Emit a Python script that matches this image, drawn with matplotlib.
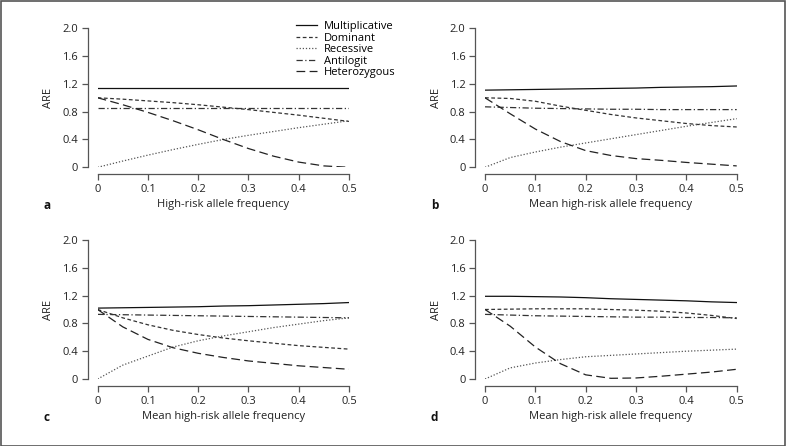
import numpy as np
import matplotlib.pyplot as plt
import matplotlib
from matplotlib.patches import Rectangle

matplotlib.rcParams['font.family'] = ['Open Sans', 'DejaVu Sans']

# data
p = [0.0, 0.05, 0.1, 0.15, 0.2, 0.25, 0.3, 0.35, 0.4, 0.45, 0.5]

# panel a
a_mult = [1.14, 1.14, 1.14, 1.14, 1.14, 1.14, 1.14, 1.14, 1.14, 1.14, 1.14]
a_dom = [1.0, 0.98, 0.955, 0.93, 0.9, 0.865, 0.83, 0.79, 0.75, 0.705, 0.66]
a_rec = [0.0, 0.09, 0.175, 0.255, 0.33, 0.4, 0.46, 0.515, 0.57, 0.62, 0.67]
a_anti = [0.85, 0.85, 0.85, 0.85, 0.85, 0.85, 0.85, 0.85, 0.85, 0.85, 0.85]
a_het = [1.0, 0.9, 0.79, 0.67, 0.54, 0.4, 0.27, 0.16, 0.075, 0.02, 0.0]

# panel b
b_mult = [1.11, 1.115, 1.12, 1.125, 1.13, 1.135, 1.14, 1.15, 1.155, 1.16, 1.17]
b_dom = [1.0, 0.99, 0.95, 0.88, 0.82, 0.76, 0.71, 0.67, 0.63, 0.6, 0.58]
b_rec = [0.0, 0.14, 0.22, 0.29, 0.35, 0.41, 0.47, 0.53, 0.59, 0.645, 0.7]
b_anti = [0.87, 0.86, 0.85, 0.845, 0.84, 0.835, 0.835, 0.83, 0.83, 0.83, 0.83]
b_het = [1.0, 0.77, 0.55, 0.37, 0.24, 0.17, 0.125, 0.1, 0.07, 0.045, 0.02]

# panel c
c_mult = [1.02, 1.025, 1.03, 1.035, 1.04, 1.05, 1.055, 1.065, 1.075, 1.085, 1.1]
c_dom = [1.0, 0.88, 0.78, 0.7, 0.64, 0.59, 0.55, 0.515, 0.48, 0.455, 0.43]
c_rec = [0.0, 0.2, 0.33, 0.46, 0.55, 0.62, 0.68, 0.74, 0.79, 0.84, 0.88]
c_anti = [0.93, 0.925, 0.92, 0.915, 0.91, 0.905, 0.9, 0.895, 0.89, 0.885, 0.88]
c_het = [1.0, 0.75, 0.57, 0.45, 0.37, 0.31, 0.26, 0.225, 0.19, 0.165, 0.14]

# panel d
d_mult = [1.19, 1.19, 1.185, 1.18, 1.17, 1.155, 1.145, 1.135, 1.125, 1.11, 1.1]
d_dom = [1.0, 1.005, 1.01, 1.01, 1.01, 1.0, 0.99, 0.975, 0.95, 0.915, 0.87]
d_rec = [0.0, 0.16, 0.23, 0.28, 0.32, 0.34, 0.36, 0.38, 0.4, 0.415, 0.43]
d_anti = [0.93, 0.92, 0.91, 0.905, 0.9, 0.895, 0.89, 0.89, 0.885, 0.885, 0.88]
d_het = [1.0, 0.76, 0.46, 0.22, 0.06, 0.01, 0.015, 0.04, 0.07, 0.1, 0.14]

labels = ['Multiplicative', 'Dominant', 'Recessive', 'Antilogit', 'Heterozygous']
styles = ['-', (0, (3, 2)), (0, (1, 1.5)), (0, (5, 2, 1, 2)), (0, (7, 3.5))]
colors = ['#111111', '#333333', '#555555', '#333333', '#222222']
panels = [
    ('a', 'High-risk allele frequency', [a_mult, a_dom, a_rec, a_anti, a_het]),
    ('b', 'Mean high-risk allele frequency', [b_mult, b_dom, b_rec, b_anti, b_het]),
    ('c', 'Mean high-risk allele frequency', [c_mult, c_dom, c_rec, c_anti, c_het]),
    ('d', 'Mean high-risk allele frequency', [d_mult, d_dom, d_rec, d_anti, d_het]),
]
# axes boxes in figure fraction (left, bottom, width, height)
boxes = [(0.1241, 0.6249, 0.3193, 0.3117),
         (0.6163, 0.6249, 0.3198, 0.3117),
         (0.1241, 0.1502, 0.3193, 0.3117),
         (0.6163, 0.1502, 0.3198, 0.3117)]

fig = plt.figure(figsize=(7.87, 4.46), dpi=100)
fig.patches.append(Rectangle((0.001, 0.001), 0.997, 0.997, transform=fig.transFigure,
                             fill=False, edgecolor='#555555', linewidth=1.2))

axc = '#555555'
for k in range(4):
    letter, xlab, series = panels[k]
    ax = fig.add_axes(boxes[k])
    for s in range(5):
        ax.plot(p, series[s], linestyle=styles[s], color=colors[s], linewidth=0.9,
                label=labels[s])
    ax.set_xlim(0, 0.5)
    ax.set_ylim(0, 2.0)
    ax.set_xticks([0, 0.1, 0.2, 0.3, 0.4, 0.5])
    ax.set_xticklabels(['0', '0.1', '0.2', '0.3', '0.4', '0.5'])
    ax.set_yticks([0, 0.4, 0.8, 1.2, 1.6, 2.0])
    ax.set_yticklabels(['0', '0.4', '0.8', '1.2', '1.6', '2.0'])
    ax.spines['top'].set_visible(False)
    ax.spines['right'].set_visible(False)
    ax.spines['left'].set_position(('outward', 7))
    ax.spines['bottom'].set_position(('outward', 5))
    for sp in ['left', 'bottom']:
        ax.spines[sp].set_color(axc)
        ax.spines[sp].set_linewidth(0.9)
    ax.tick_params(direction='out', length=4, width=0.9, color=axc,
                   labelsize=8, labelcolor='#222222', pad=3)
    ax.set_ylabel('ARE', fontsize=8, color='#222222', labelpad=6)
    ax.set_xlabel(xlab, fontsize=8, color='#222222', labelpad=3)
    ax.text(-0.215, -0.3, letter, transform=ax.transAxes, fontsize=8.5,
            fontweight='bold', color='#111111')
    if k == 0:
        ax.legend(loc='upper left', bbox_to_anchor=(296 / 787, 1 - 21 / 446),
                  bbox_transform=fig.transFigure, frameon=False, fontsize=8,
                  handlelength=1.9, handletextpad=0.6, labelspacing=0.05,
                  borderpad=0, borderaxespad=0)

plt.savefig('out.png', dpi=100)
